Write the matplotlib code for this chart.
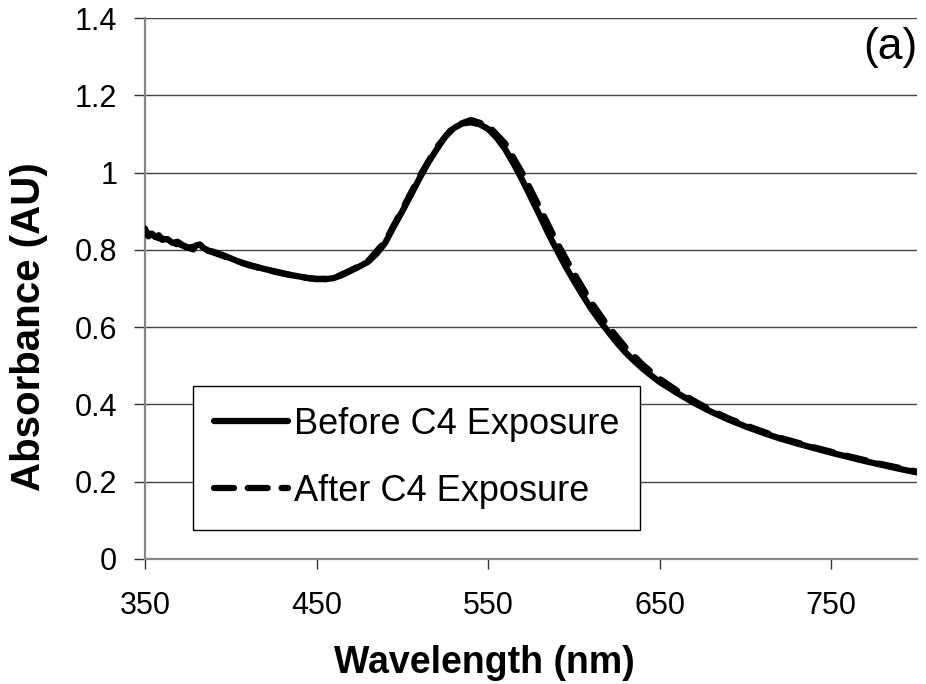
import numpy as np
import matplotlib
matplotlib.use("Agg")
import matplotlib.pyplot as plt

plt.rcParams['font.family'] = ['Liberation Sans', 'DejaVu Sans']

# Absorbance spectra (nm, AU)
wl_before = [350, 352, 354, 356, 358, 360, 363, 366, 369, 372, 375, 378, 380, 382,
             384, 387, 390, 395, 400, 405, 410, 415, 420, 425, 430, 435, 440, 445,
             450, 455, 460, 465, 470, 475, 480, 485, 490, 495, 500, 505, 510, 515,
             520, 525, 530, 535, 540, 545, 550, 555, 560, 565, 570, 575, 580, 585,
             590, 595, 600, 605, 610, 615, 620, 625, 630, 635, 640, 645, 650, 660,
             670, 680, 690, 700, 710, 720, 730, 740, 750, 760, 770, 780, 790, 800]
abs_before = [0.855, 0.835, 0.842, 0.833, 0.838, 0.826, 0.828, 0.818, 0.821, 0.812,
              0.806, 0.801, 0.812, 0.814, 0.805, 0.798, 0.795, 0.787, 0.778, 0.769,
              0.762, 0.756, 0.750, 0.745, 0.740, 0.735, 0.731, 0.727, 0.725, 0.724,
              0.727, 0.735, 0.746, 0.757, 0.769, 0.790, 0.818, 0.860, 0.900, 0.942,
              0.985, 1.025, 1.060, 1.093, 1.115, 1.127, 1.130, 1.125, 1.113, 1.090,
              1.060, 1.022, 0.980, 0.935, 0.890, 0.843, 0.800, 0.758, 0.720, 0.683,
              0.648, 0.617, 0.588, 0.560, 0.535, 0.513, 0.493, 0.475, 0.458, 0.430,
              0.404, 0.381, 0.361, 0.343, 0.327, 0.312, 0.299, 0.287, 0.275, 0.264,
              0.253, 0.243, 0.233, 0.224]

wl_after = [350, 354, 358, 362, 366, 370, 375, 380, 385, 390, 400, 410, 420, 430,
            440, 450, 460, 470, 480, 490, 500, 510, 520, 530, 540, 550, 560, 570,
            580, 590, 600, 610, 620, 630, 640, 650, 660, 670, 680, 690, 700, 720,
            740, 760, 780, 800]
abs_after = [0.845, 0.840, 0.830, 0.828, 0.815, 0.815, 0.805, 0.810, 0.800, 0.793,
             0.777, 0.761, 0.749, 0.739, 0.730, 0.724, 0.727, 0.747, 0.771, 0.822,
             0.905, 0.990, 1.065, 1.120, 1.136, 1.122, 1.075, 0.998, 0.910, 0.820,
             0.740, 0.665, 0.602, 0.548, 0.503, 0.466, 0.436, 0.409, 0.385, 0.364,
             0.346, 0.314, 0.289, 0.266, 0.245, 0.226]

x_ticks = [350, 450, 550, 650, 750]
y_ticks = [0, 0.2, 0.4, 0.6, 0.8, 1.0, 1.2, 1.4]
y_tick_labels = ['0', '0.2', '0.4', '0.6', '0.8', '1', '1.2', '1.4']

W, H = 926, 684
fig = plt.figure(figsize=(W / 100, H / 100), dpi=100)
ax = fig.add_axes([145 / W, 1 - 559 / H, 772 / W, 541 / H])

ax.plot(wl_after, abs_after, color='black', lw=4.5, dashes=(3.2, 2.2),
        dash_capstyle='round', solid_capstyle='round', label='After C4 Exposure', zorder=2)
ax.plot(wl_before, abs_before, color='black', lw=4.5, solid_capstyle='round',
        solid_joinstyle='round', label='Before C4 Exposure', zorder=3)

ax.set_xlim(350, 800)
ax.set_ylim(0, 1.4)
ax.set_xticks(x_ticks)
ax.set_yticks(y_ticks)
ax.set_yticklabels(y_tick_labels)
ax.tick_params(axis='x', labelsize=22, length=7, width=1, color='#333333',
               direction='out', pad=16)
ax.tick_params(axis='y', labelsize=22, length=8, width=1, color='#333333',
               direction='out', pad=12)

ax.yaxis.grid(True, color='#444444', lw=1.0)
ax.set_axisbelow(True)
for side in ['top', 'right']:
    ax.spines[side].set_visible(False)
for side in ['left', 'bottom']:
    ax.spines[side].set_color('#868686')
    ax.spines[side].set_linewidth(1.6)

handles, labels = ax.get_legend_handles_labels()
leg = ax.legend(handles[::-1], labels[::-1], loc='lower left',
                bbox_to_anchor=(0.062, 0.054), borderaxespad=0, fontsize=26,
                frameon=True, fancybox=False, framealpha=1, edgecolor='black',
                handlelength=2.05, handletextpad=0.17, labelspacing=0.88,
                borderpad=0.58)
leg.get_frame().set_linewidth(1.0)

fig.text(484 / W, 1 - 663 / H, 'Wavelength (nm)', ha='center', va='center',
         fontsize=27, fontweight='bold')
fig.text(29 / W, 1 - 327 / H, 'Absorbance (AU)', ha='center', va='center',
         rotation=90, fontsize=29, fontweight='bold')
fig.text(918 / W, 1 - 47 / H, '(a)', ha='right', va='center', fontsize=32)

fig.savefig('out.png', dpi=100)
